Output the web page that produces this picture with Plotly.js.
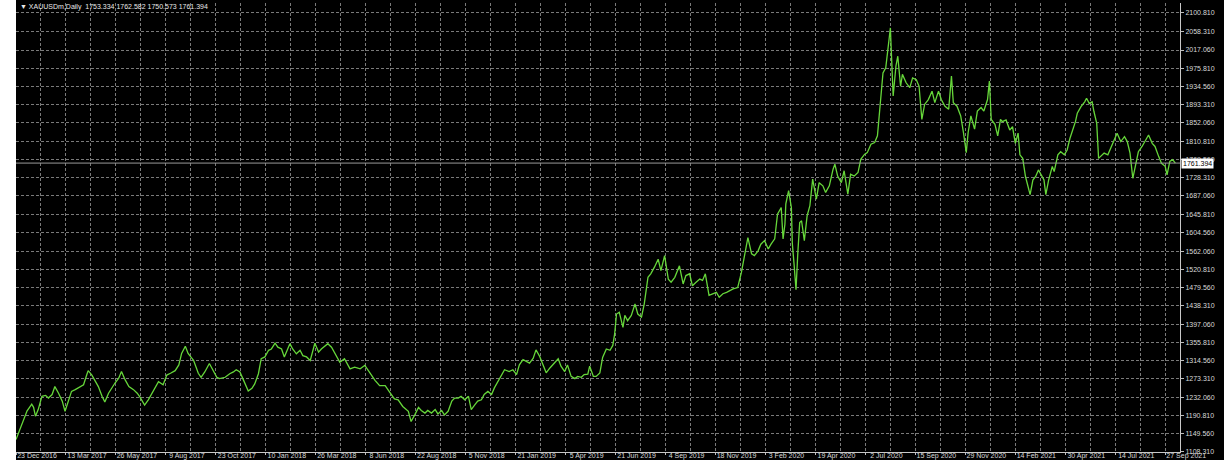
<!DOCTYPE html>
<html>
<head>
<meta charset="utf-8">
<script src="https://cdn.plot.ly/plotly-3.0.1.min.js"></script>
<style>
  html, body { margin: 0; padding: 0; background: #ffffff; }
  #chart { position: absolute; left: 16px; top: 0; width: 1208px; height: 460px; }
</style>
</head>
<body>
<div id="chart"></div>
<script>
// Daily close of XAUUSDm, sampled along the chart (bar number from the first bar, close price)
const bars = [
  0,5,8,12,15,17,19,21,24,28,32,35,39,42,46,50,53,57,60,64,69,73,77,78,82,86,89,93,96,100,
  104,107,111,114,118,122,127,131,134,139,143,149,154,159,163,167,172,176,179,183,186,192,197,
  200,204,209,213,217,220,226,231,235,238,242,246,251,255,258,262,265,269,273,276,280,283,287,290,
  296,299,303,307,310,314,318,323,327,330,334,337,341,345,350,355,361,366,372,377,382,388,393,399,404,409,
  413,418,424,427,431,435,438,442,445,449,453,456,460,463,467,471,474,478,481,485,489,492,496,499,
  503,506,510,514,517,521,525,528,533,537,541,544,548,552,555,559,562,566,570,573,577,580,586,589,
  593,596,600,604,607,611,614,618,620,624,627,631,
  634,638,642,645,647,649,652,656,658,661,665,669,672,676,679,683,686,690,694,697,701,705,708,712,
  717,721,724,728,731,735,739,742,745,749,753,757,760,764,768,771,775,780,784,787,791,795,798,802,
  805,809,813,816,820,823,827,829,831,832,835,838,839,841,843,
  845,847,849,852,855,858,861,865,868,872,875,879,883,885,888,892,895,899,902,906,910,913,917,920,
  924,928,931,934,937,940,943,945,946,948,951,953,956,958,962,966,969,973,976,979,982,986,990,993,
  997,1000,1004,1008,1011,1013,1017,1021,1024,1027,1029,1032,1036,1039,1043,1046,1050,1052,1054,1058,1061,
  1064,1066,1070,1074,1077,1080,1083,1085,1088,1091,1093,1096,1099,1102,1105,1108,1111,1113,1116,1120,
  1122,1126,1129,1133,1136,1139,1142,1145,1147,1151,1155,1157,1160,1163,1165,1168,1170,1172,1176,1180,
  1183,1187,1190,1194,1198,1201,1204,1207,1210,1213,1217,1220,1224,1228,1231,1235,1238,1242,1244,1247,1250,1253
];
const closes = [
  1136,1162,1182,1201,1210,1216,1209,1189,1204,1234,1236,1230,1238,1256,1241,1223,1200,1226,1245,1249,1256,1260,1286,1292,1282,1267,1256,1234,1221,1241,
  1256,1264,1275,1290,1271,1256,1249,1241,1232,1214,1226,1249,1267,1260,1282,1286,1292,1305,1331,1347,1331,1315,1286,
  1277,1289,1308,1293,1277,1274,1277,1285,1289,1294,1289,1270,1246,1252,1262,1285,1319,1323,1338,1341,1354,1345,1341,1323,
  1353,1341,1330,1338,1326,1323,1315,1354,1334,1341,1349,1353,1345,1330,1311,1319,1296,1300,1296,1304,1289,1270,1258,1258,1243,1228,
  1226,1211,1200,1177,1192,1209,1202,1196,1202,1196,1204,1194,1202,1192,1200,1223,1230,1230,1234,1226,1234,1204,1215,1223,
  1226,1238,1245,1238,1253,1268,1283,1294,1290,1294,1283,1305,1317,1313,1309,1320,1339,1324,1302,1287,1298,1305,1319,1302,
  1290,1305,1279,1274,1279,1277,1283,1284,1302,1279,1279,1287,
  1322,1341,1338,1349,1375,1420,1424,1390,1417,1405,1417,1443,1420,1413,1443,1503,1511,1526,1544,1518,1552,1499,1492,1503,
  1529,1488,1507,1511,1484,1492,1499,1496,1511,1462,1466,1469,1458,1466,1469,1473,1477,1480,1514,1548,1593,1556,1552,1563,
  1578,1586,1567,1578,1590,1646,1661,1590,1623,1669,1699,1661,1580,1530,1475,
  1560,1627,1631,1586,1642,1665,1725,1680,1717,1710,1695,1710,1747,1759,1732,1717,1744,1691,1736,1732,1740,1770,1781,1785,
  1804,1808,1823,1898,1965,1977,2033,2067,2014,1913,1981,2003,1935,1962,1943,1932,1954,1950,1935,1860,1894,1905,1924,1898,
  1924,1905,1890,1883,1958,1898,1890,1868,1830,1785,1830,1868,1838,1879,1887,1879,1905,1947,1860,1849,1823,
  1860,1855,1859,1836,1844,1806,1829,1780,1772,1731,1716,1690,1723,1731,1746,1735,1723,1690,1723,1754,
  1742,1780,1787,1780,1791,1817,1836,1855,1874,1889,1900,1908,1896,1900,1878,1851,1772,1776,1784,1780,
  1795,1817,1829,1810,1821,1810,1784,1727,1761,1787,1799,1810,1825,1806,1799,1776,1761,1754,1735,1765,1769,1761.394
];

// Date labels along the time axis (one every 54 bars)
const dateLabels = [
  '23 Dec 2016','13 Mar 2017','26 May 2017','9 Aug 2017','23 Oct 2017','10 Jan 2018','26 Mar 2018','8 Jun 2018',
  '22 Aug 2018','5 Nov 2018','21 Jan 2019','5 Apr 2019','21 Jun 2019','4 Sep 2019','18 Nov 2019','3 Feb 2020',
  '19 Apr 2020','2 Jul 2020','15 Sep 2020','29 Nov 2020','14 Feb 2021','30 Apr 2021','14 Jul 2021','27 Sep 2021'
];
const barsPerLabel = 54;

// Price scale labels
const priceLabels = [
  '2100.810','2058.310','2017.060','1975.810','1934.560','1893.310','1852.060','1810.810','1769.560',
  '1728.310','1687.060','1645.810','1604.560','1562.060','1520.810','1479.560','1438.310','1397.060',
  '1355.810','1314.560','1273.310','1232.060','1190.810','1149.560','1108.310'
];

const header = 'XAUUSDm,Daily  1753.334 1762.582 1750.573 1761.394';
const lastPrice = 1761.394;

const FONT = 'Liberation Sans, Arial, sans-serif';
const gridCol = '#7a7a7a';
const txtCol = '#d8d8d8';

const trace = {
  x: bars, y: closes, type: 'scatter', mode: 'lines',
  line: { color: '#66d63a', width: 1.3 },
  hoverinfo: 'skip'
};

const layout = {
  width: 1208, height: 460,
  margin: { l: 0, r: 44, t: 3, b: 8 },
  paper_bgcolor: '#000000', plot_bgcolor: '#000000',
  showlegend: false,
  font: { family: FONT, size: 7, color: txtCol },
  xaxis: {
    range: [0, 1258],
    tickmode: 'array',
    tickvals: dateLabels.map((_, i) => i * barsPerLabel),
    ticktext: dateLabels,
    ticks: 'outside', ticklen: 2, tickcolor: '#bbbbbb',
    tickfont: { family: FONT, size: 7, color: txtCol },
    ticklabelshift: 21,
    ticklabelstandoff: -5,
    showgrid: true, gridcolor: gridCol, griddash: '3px,2px', gridwidth: 1,
    minor: { tick0: 27, dtick: 54, showgrid: true, gridcolor: gridCol, griddash: '3px,2px', gridwidth: 1, ticks: '' },
    showline: true, linecolor: '#c8c8c8', linewidth: 1,
    zeroline: false, fixedrange: true
  },
  yaxis: {
    side: 'right',
    range: [1108.0, 2123.4],
    tickmode: 'array',
    tickvals: priceLabels.map(Number),
    ticktext: priceLabels,
    ticks: 'outside', ticklen: 3, tickcolor: '#bbbbbb',
    tickfont: { family: FONT, size: 7, color: txtCol },
    showgrid: true, gridcolor: gridCol, griddash: '3px,2px', gridwidth: 1,
    showline: true, linecolor: '#c8c8c8', linewidth: 1,
    zeroline: false, fixedrange: true
  },
  shapes: [
    { type: 'line', xref: 'paper', x0: 0, x1: 1, yref: 'y', y0: lastPrice, y1: lastPrice,
      line: { color: '#9a9a9a', width: 1 } }
  ],
  annotations: [
    { xref: 'paper', yref: 'y', x: 1, y: lastPrice, xanchor: 'left', yanchor: 'middle',
      xshift: 1, text: lastPrice.toFixed(3), showarrow: false,
      bgcolor: '#ffffff', borderpad: 1,
      font: { family: FONT, size: 7, color: '#000000' } },
    { xref: 'paper', yref: 'paper', x: 0, y: 1, xanchor: 'left', yanchor: 'top',
      xshift: 2, yshift: 2, text: '▼ ' + header, showarrow: false,
      font: { family: FONT, size: 7, color: '#e8e8e8' } }
  ]
};

Plotly.newPlot('chart', [trace], layout, { staticPlot: true, displayModeBar: false });
</script>
</body>
</html>
